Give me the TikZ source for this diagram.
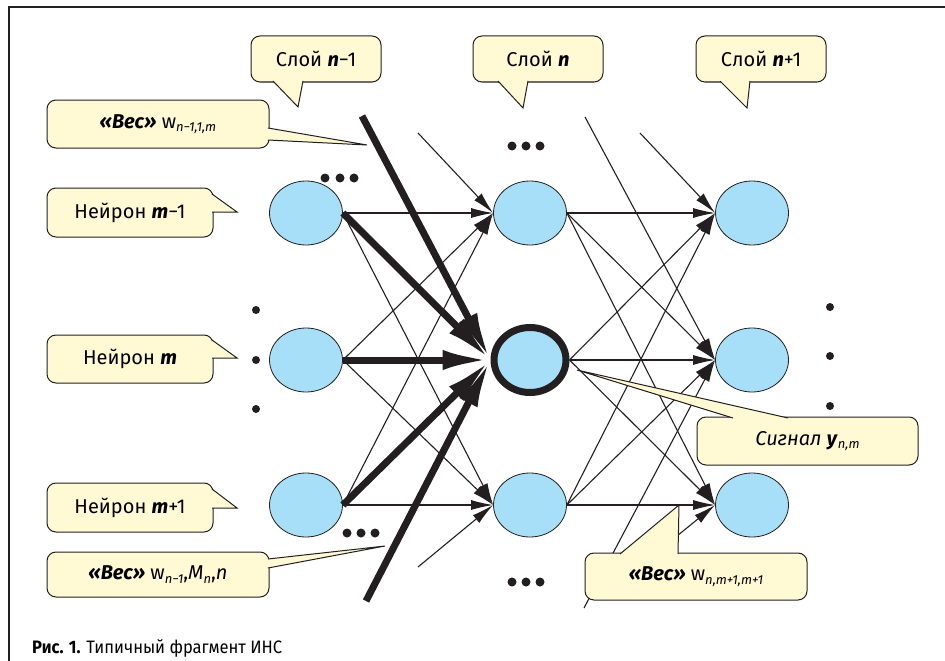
\documentclass[tikz,border=0pt]{standalone}
\usepackage{fontspec}
\setmainfont{Fira Sans}
\usetikzlibrary{shapes.geometric, arrows.meta, calc}
\definecolor{inkc}{RGB}{35,31,32}
\definecolor{cellblue}{RGB}{168,223,248}
\definecolor{notefill}{RGB}{255,250,212}
\newcommand{\bfit}[1]{\textbf{\textit{#1}}}
\newcommand{\lowix}[1]{\raisebox{-0.35ex}{\fontsize{13}{13}\selectfont\itshape #1}}
\tikzset{
  cell/.style={ellipse, draw=inkc, fill=cellblue, line width=0.8pt,
    minimum width=73pt, minimum height=64pt, inner sep=0pt},
  note/.style={draw=inkc, fill=notefill, line width=1pt, rounded corners=9pt,
    inner sep=0pt, font=\fontsize{20}{24}\selectfont},
  tail/.style={draw=inkc, fill=notefill, line width=1pt},
  wire/.style={draw=inkc, line width=1.1pt},
  heavy/.style={draw=inkc, line width=7pt, -{Latex[length=48pt,width=20pt]}},
}

\begin{document}
\begin{tikzpicture}[x=1pt, y=-1pt, >={Latex[length=22pt,width=10pt]}]
\useasboundingbox (0,0) rectangle (945,661);
\draw[inkc, line width=1.6pt] (945,7) -- (9,7) -- (9,661);
% neurons
\node[cell] at (306,213) (A1) {};
\node[cell] at (306,360) (A2) {};
\node[cell] at (306,505) (A3) {};
\node[cell] at (530,213) (B1) {};
\node[cell, line width=7pt, minimum width=72pt, minimum height=65pt] at (530,360) (B2) {};
\node[cell] at (530,505) (B3) {};
\node[cell] at (752,213) (C1) {};
\node[cell] at (752,360) (C2) {};
\node[cell] at (752,505) (C3) {};
% loose ends of the cut network
\coordinate (fakeTop) at (362,116);
\coordinate (fakeBot) at (366,601);
\coordinate (fakeB1) at (418,133);
\coordinate (fakeB3) at (418,567);
\coordinate (fakeC1) at (640,133);
\coordinate (fakeC2a) at (585,117);
\coordinate (fakeC2b) at (584,608);
\coordinate (fakeC3) at (645,562);
% layer n-1 -> layer n
\path (A1.east) edge[wire, ->] (B1.west) edge[wire, ->] (B3.west) edge[heavy] (B2.west);
\path (A2.east) edge[wire, ->] (B1.west) edge[wire, ->] (B3.west) edge[heavy] (B2.west);
\path (A3.east) edge[wire, ->] (B1.west) edge[wire, ->] (B3.west) edge[heavy] (B2.west);
\path (fakeTop) edge[heavy] (B2.west);
\path (fakeBot) edge[heavy] (B2.west);
\path (fakeB1) edge[wire, ->] (B1.west);
\path (fakeB3) edge[wire, ->] (B3.west);
% layer n -> layer n+1
\path (B1.east) edge[wire, ->] (C1.west) edge[wire, ->] (C2.west) edge[wire, ->] (C3.west);
\path (B2.east) edge[wire, ->] (C1.west) edge[wire, ->] (C2.west) edge[wire, ->] (C3.west);
\path (B3.east) edge[wire, ->] (C1.west) edge[wire, ->] (C2.west) edge[wire, ->] (C3.west);
\path (fakeC1) edge[wire, ->] (C1.west);
\path (fakeC2a) edge[wire, ->] (C2.west);
\path (fakeC2b) edge[wire, ->] (C2.west);
\path (fakeC3) edge[wire, ->] (C3.west);
% dots
\fill[inkc] (325,178) circle (4.5) (340,178) circle (4.5) (354,178) circle (4.5);
\fill[inkc] (512,146) circle (4.5) (526,146) circle (4.5) (540,146) circle (4.5);
\fill[inkc] (347,533) circle (4.5) (361,533) circle (4.5) (375,533) circle (4.5);
\fill[inkc] (512,582) circle (4.5) (526,582) circle (4.5) (540,582) circle (4.5);
\fill[inkc] (256,310) circle (4) (256,360) circle (4) (256,409) circle (4);
\fill[inkc] (830,307) circle (4) (830,356) circle (4) (830,406) circle (4);
% callouts
\node[note, minimum width=130pt, minimum height=46pt] at (316,59) (LA) {Слой \bfit{n}−1};
\filldraw[tail] (273,81) -- (298,107) -- (303,81);
\node[note, minimum width=130pt, minimum height=46pt] at (538,59) (LB) {Слой \bfit{n}};
\filldraw[tail] (498,81) -- (523,108) -- (528,81);
\node[note, minimum width=130pt, minimum height=46pt] at (761,59) (LC) {Слой \bfit{n}+1};
\filldraw[tail] (720,81) -- (747,108) -- (750,81);
\node[note, minimum width=222pt, minimum height=48pt] at (158,124) (WA)
  {\bfit{«Вес»} w\lowix{n−1,1,m}};
\filldraw[tail] (268,128) -- (367,145) -- (268,140);
\node[note, minimum width=166pt, minimum height=49pt] at (130,212.5) (NA) {Нейрон \bfit{m}−1};
\filldraw[tail] (212,194) -- (237,212) -- (212,212);
\node[note, minimum width=166pt, minimum height=48pt] at (130,359) (NB) {Нейрон \bfit{m}};
\filldraw[tail] (212,340) -- (237,358) -- (212,358);
\node[note, minimum width=166pt, minimum height=49pt] at (130,507.5) (NC) {Нейрон \bfit{m}+1};
\filldraw[tail] (212,489) -- (237,508) -- (212,508);
\node[note, minimum width=222pt, minimum height=45pt] at (158,574.5) (WB)
  {\bfit{«Вес»} w\lowix{n−1},\textit{M}\lowix{n},\textit{n}};
\filldraw[tail] (268,559) -- (385,546) -- (268,568);
\node[note, minimum width=221pt, minimum height=48pt] at (807.5,441) (S)
  {\textit{Сигнал} \bfit{y}\lowix{n,m}};
\filldraw[tail] (733,418) -- (577,370) -- (788,418);
\node[note, minimum width=222pt, minimum height=47pt] at (696,576.5) (WC)
  {\bfit{«Вес»} w\lowix{n,m+1,m+1}};
\filldraw[tail] (620,554) -- (679,505) -- (678,554);
% caption
\node[anchor=base west, inner sep=0pt, font=\fontsize{18}{20}\selectfont] at (32,653) (cap)
  {\scalebox{0.92}[1]{\textbf{Рис. 1.} Типичный фрагмент ИНС}};
\end{tikzpicture}
\end{document}
